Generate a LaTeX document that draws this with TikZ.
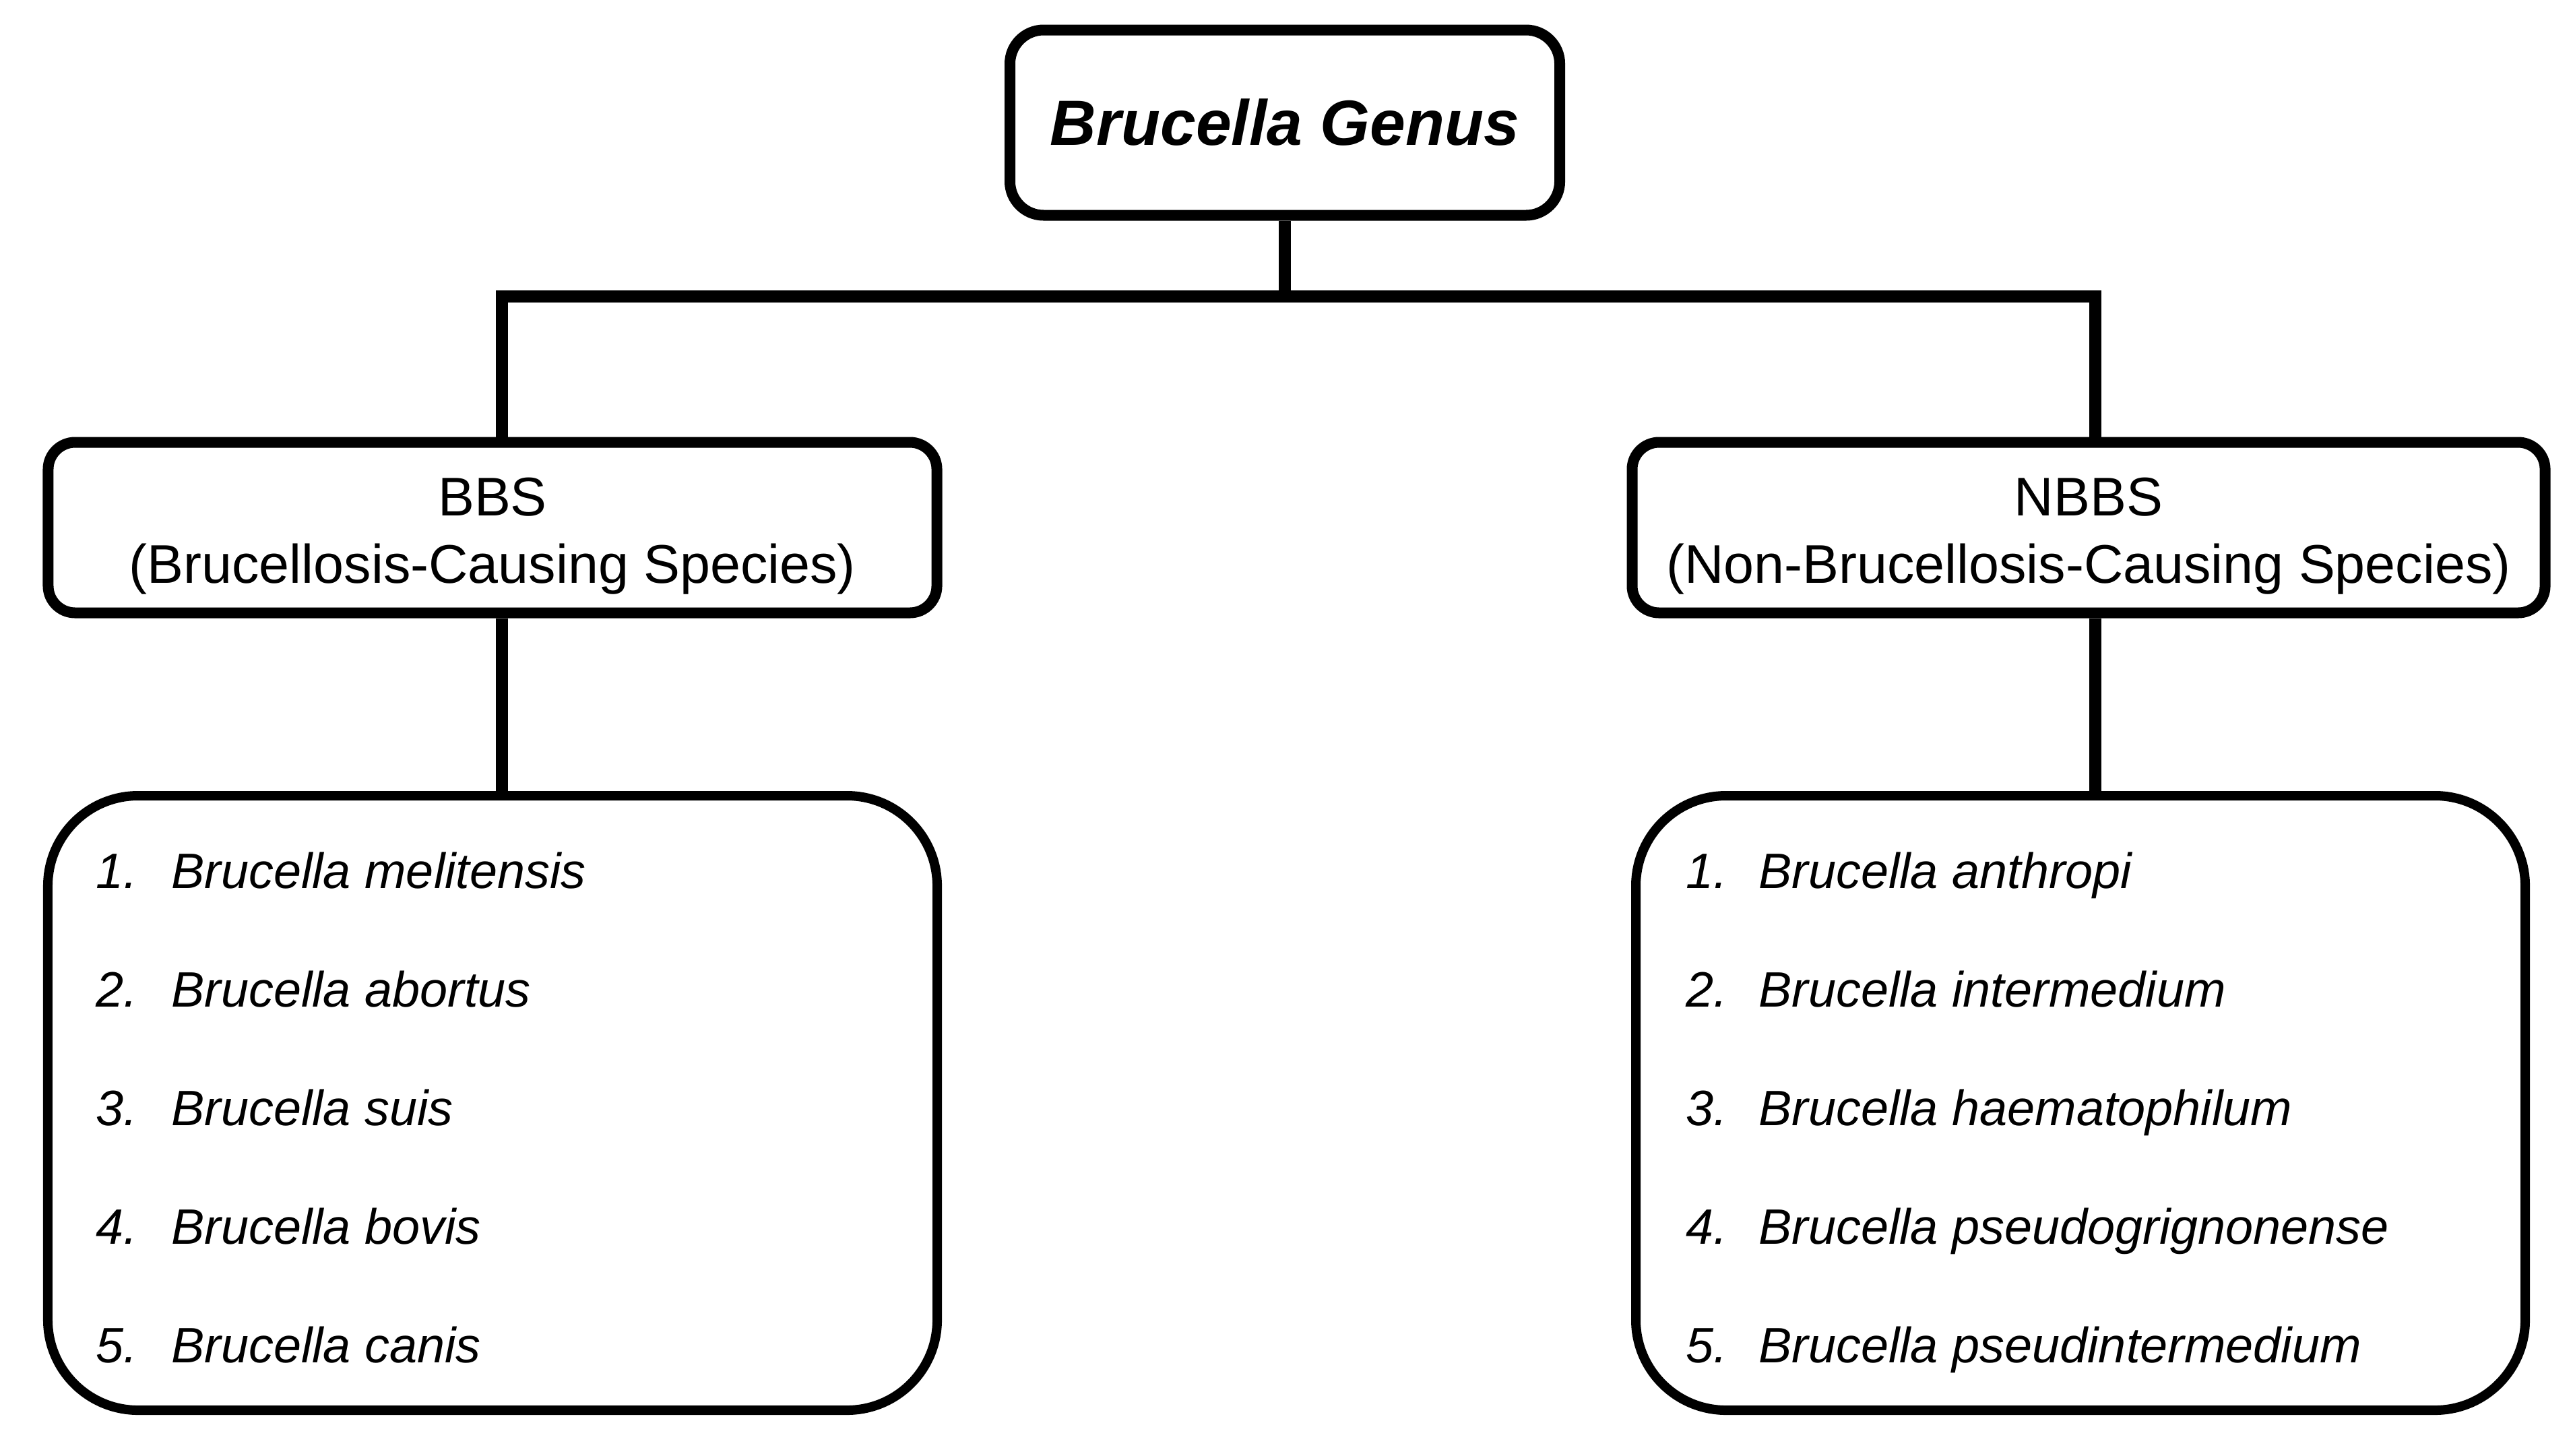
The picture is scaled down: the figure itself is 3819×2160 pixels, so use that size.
\documentclass[tikz,border=0pt]{standalone}
\usepackage{fontspec}
\setmainfont{Liberation Sans}
\usetikzlibrary{positioning}

\tikzset{
  genusbox/.style={draw,line width=0.8mm,rounded corners=2.5mm,minimum width=40.8mm,minimum height=13.75mm,
    font=\fontsize{13.5}{16}\selectfont\bfseries\itshape},
  groupbox/.style={draw,line width=0.8mm,rounded corners=2mm,minimum height=12.65mm,align=center,
    text height=25.9pt,font=\fontsize{11.5}{14.2}\selectfont},
  listbox/.style={draw,line width=0.7mm,rounded corners=6.7mm,minimum width=66mm,minimum height=45.6mm},
  item/.style={anchor=base west,inner sep=0pt,font=\fontsize{10.5}{12}\selectfont\itshape},
  link/.style={line width=0.9mm},
}

\begin{document}
\begin{tikzpicture}[x=0.05mm,y=-0.05mm]
  \useasboundingbox (0,0) rectangle (3819,2160);
  % boxes
  \node[genusbox] (genus) at (1907,182) {Brucella Genus};
  \node[groupbox,minimum width=65.95mm] (bbs) at (731,783) {BBS\\(Brucellosis-Causing Species)};
  \node[groupbox,minimum width=67.75mm] (nbbs) at (3100,783) {NBBS\\(Non-Brucellosis-Causing Species)};
  \node[listbox] (bbslist) at (731,1637) {};
  \node[listbox] (nbbslist) at (3088,1637) {};
  % bus
  \coordinate (busL) at (745,440);
  \coordinate (busR) at (3110,440);
  \draw[link] (genus.south) -- (genus.south |- busL);
  \draw[link] (bbs.north -| busL) -- (busL) -- (busR) -- (nbbs.north -| busR);
  \draw[link] (bbs.south -| busL) -- (bbslist.north -| busL);
  \draw[link] (nbbs.south -| busR) -- (nbbslist.north -| busR);
  % species
  \foreach \sp [count=\i] in {melitensis,abortus,suis,bovis,canis}
    \node[item] (bbs\i) at (141,1142+176*\i) {\makebox[5.6mm][l]{\i.}Brucella \sp};
  \foreach \sp [count=\i] in {anthropi,intermedium,haematophilum,pseudogrignonense,pseudintermedium}
    \node[item] (nbbs\i) at (2501,1142+176*\i) {\makebox[5.4mm][l]{\i.}Brucella \sp};
\end{tikzpicture}
\end{document}
